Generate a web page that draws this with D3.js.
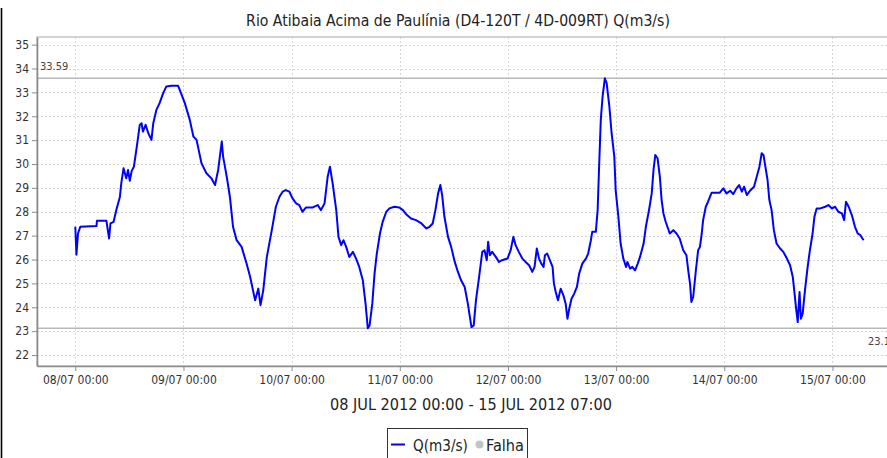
<!DOCTYPE html>
<html>
<head>
<meta charset="utf-8">
<script src="https://cdn.jsdelivr.net/npm/d3@7"></script>
<style>
  body { margin: 0; background: #fff; }
  svg { display: block; font-family: "DejaVu Sans Condensed", "DejaVu Sans", sans-serif; }
</style>
</head>
<body>
<svg id="chart" width="887" height="458"></svg>
<script>
// hours since 08/07/2012 00:00
const hours = [
  0, 0.25, 0.6, 1.1, 4.7, 4.8, 6.9, 7.5, 7.8, 8.5, 9.1, 9.9, 10.2, 10.7, 11.3, 11.7, 12.1, 12.5, 13.0, 13.7,
  14.3, 14.7, 15.0, 15.6, 16.2, 16.9, 17.3, 18.0, 18.7, 19.5, 20.2, 21.3, 22.8, 23.6, 24.3, 25.4, 26.2, 26.9,
  28.0, 29.1, 30.2, 31.0, 31.7, 32.5, 32.8, 33.6, 34.3, 35.0, 35.8, 36.9, 38.0, 38.8, 39.9, 40.6, 41.1, 41.7,
  42.5, 43.6, 44.5, 45.3, 46.0, 46.7, 47.5, 48.2, 49.0, 49.7, 50.4, 51.2, 52.7, 53.8, 54.5, 55.3, 56.0, 56.5,
  57.1, 57.9, 58.4, 59.0, 59.5, 60.1, 60.8, 61.6, 62.3, 63.0, 63.8, 64.4, 64.9, 65.3, 65.9, 66.4, 66.9, 67.6,
  68.2, 69.0, 69.7, 70.8, 71.9, 72.7, 73.4, 74.5, 75.6, 76.8, 77.9, 78.6, 79.3, 79.9, 80.5, 81.0, 81.4, 81.9,
  82.7, 83.4, 84.2, 84.9, 85.6, 86.4, 87.1, 87.9, 88.4, 88.9, 89.6, 90.3, 90.8, 91.3, 91.6, 92.0, 92.5, 93.3,
  94.0, 94.7, 95.9, 96.6, 97.2, 97.7, 98.4, 99.2, 99.9, 100.7, 101.4, 101.9, 102.4, 102.9, 103.4, 103.9, 104.2,
  104.7, 105.3, 105.9, 106.2, 106.6, 107.1, 107.7, 108.3, 108.8, 109.2, 109.6, 110.1, 110.7, 111.3, 111.8,
  112.5, 113.3, 113.8, 114.4, 114.7, 115.5, 115.9, 116.2, 116.6, 117.0, 117.5, 117.9, 118.5, 119.0, 119.6,
  119.9, 120.5, 121.0, 121.6, 122.2, 122.5, 123.1, 123.6, 124.2, 124.8, 125.3, 126.1, 126.6, 127.3, 127.9,
  128.3, 128.7, 129.2, 129.7, 130.1, 130.5, 131.0, 131.9, 132.7, 133.4, 134.1, 134.9, 135.6, 136.0, 136.4,
  136.7, 137.1, 137.7, 138.2, 138.6, 139.0, 139.3, 139.9, 140.4, 141.2, 141.9, 143.0, 143.8, 144.5, 145.3,
  146.0, 146.7, 147.3, 147.9, 148.4, 149.0, 149.7, 150.6, 151.2, 151.8, 152.3, 152.7, 153.0, 153.6, 154.0,
  154.5, 155.0, 155.6, 156.4, 157.1, 157.9, 158.6, 159.2, 159.6, 159.9, 160.3, 160.7, 161.0, 161.4, 161.9,
  162.5, 163.0, 163.6, 164.0, 164.5, 165.3, 166.4, 167.1, 167.9, 168.6, 169.3, 170.1, 170.6, 171.0, 171.6,
  172.3, 173.0, 173.6, 174.2, 174.9
];

// Q (m3/s)
const flow = [
  27.37, 26.2, 27.09, 27.37, 27.40, 27.62, 27.62, 26.88, 27.51, 27.58, 28.07, 28.63, 29.19, 29.82, 29.40, 29.75, 29.30, 29.70, 29.89, 30.80,
  31.64, 31.71, 31.36, 31.64, 31.29, 31.01, 31.71, 32.27, 32.55, 32.97, 33.25, 33.28, 33.28, 32.90, 32.55, 31.85, 31.15, 31.01,
  30.03, 29.61, 29.40, 29.12, 29.75, 30.94, 30.31, 29.47, 28.63, 27.37, 26.81, 26.53, 25.83, 25.27, 24.29, 24.78, 24.09, 24.71,
  26.11, 27.23, 28.21, 28.63, 28.84, 28.91, 28.84, 28.56, 28.35, 28.28, 28.00, 28.18, 28.18, 28.28, 28.07, 28.35, 29.47, 29.89,
  29.19, 28.07, 26.95, 26.60, 26.81, 26.53, 26.11, 26.32, 26.04, 25.69, 25.13, 24.15, 23.12, 23.24, 24.15, 25.41, 26.25, 27.09,
  27.58, 28.00, 28.14, 28.21, 28.18, 28.07, 27.90, 27.72, 27.65, 27.51, 27.30, 27.37, 27.51, 28.07, 28.77, 29.12, 28.70, 27.79,
  26.95, 26.53, 25.90, 25.48, 25.13, 24.85, 24.15, 23.17, 23.24, 24.29, 25.27, 26.32, 26.39, 25.97, 26.74, 26.18, 26.32, 26.11,
  25.90, 25.97, 26.04, 26.39, 26.95, 26.60, 26.32, 26.04, 25.90, 25.76, 25.48, 25.69, 26.46, 26.04, 25.83, 25.69, 26.18,
  26.25, 25.97, 25.69, 24.99, 24.64, 24.29, 24.78, 24.50, 24.15, 23.52, 23.94, 24.36, 24.57, 24.85, 25.41,
  25.83, 26.04, 26.25, 26.81, 27.16, 27.16, 28.07, 29.75, 31.85, 32.83, 33.59, 33.39, 32.41, 31.29, 30.31,
  28.91, 27.79, 26.67, 26.04, 25.69, 25.90, 25.62, 25.69, 25.55, 25.83, 26.11, 26.67, 27.37, 28.07, 28.77,
  29.75, 30.38, 30.24, 29.47, 28.49, 27.93, 27.58, 27.09, 27.23, 27.09, 26.88, 26.39, 26.18, 25.55, 24.99,
  24.22, 24.43, 25.55, 26.39, 26.53, 27.09, 27.65, 28.21, 28.42, 28.80, 28.80, 28.80, 28.98, 28.77, 28.88,
  28.74, 28.98, 29.12, 28.84, 29.05, 28.70, 28.88, 29.05, 29.47, 29.89, 30.45, 30.38, 30.03, 29.33, 28.49,
  28.07, 27.23, 26.67, 26.46, 26.32, 26.04, 25.76, 25.27, 24.57, 24.01, 23.38, 24.64, 23.52, 23.73, 24.71,
  25.69, 26.39, 27.09, 27.79, 28.14, 28.14, 28.21, 28.28, 28.14, 28.21, 28.00, 27.93, 27.65, 28.42, 28.21,
  27.86, 27.37, 27.09, 27.02, 26.81
];

const yTicks = d3.range(22, 36);
const maxMark = 33.59;
const minMark = 23.12;
const title = "Rio Atibaia Acima de Paulínia (D4-120T / 4D-009RT) Q(m3/s)";
const period = "08 JUL 2012 00:00 - 15 JUL 2012 07:00";
const legendItems = ["Q(m3/s)", "Falha"];

const start = Date.UTC(2012, 6, 8, 0, 0);
const HOUR = 3600e3;
const data = hours.map((h, i) => ({t: new Date(start + h * HOUR), v: flow[i]}));

const plot = {left: 37, top: 37, right: 905, bottom: 366};

const x = d3.scaleUtc()
  .domain([new Date(start - 8.5 * HOUR), new Date(start + 184.1 * HOUR)])
  .range([plot.left, plot.right]);

const y = d3.scaleLinear()
  .domain([21.54, 35.32])
  .range([plot.bottom, plot.top]);

const svg = d3.select("#chart");

// squeeze a text to a target width by scaling its font size
function fitWidth(sel, target) {
  let fs = parseFloat(sel.style("font-size"));
  let len = sel.node().getComputedTextLength();
  sel.style("font-size", (fs * target / len) + "px");
}

// page border on the left
svg.append("line")
  .attr("x1", 1.5).attr("x2", 1.5)
  .attr("y1", 8).attr("y2", 458)
  .attr("stroke", "#000")
  .attr("stroke-width", 1.6);

const t = svg.append("text")
  .attr("x", 458).attr("y", 26)
  .attr("text-anchor", "middle")
  .attr("fill", "#222")
  .style("font-size", "16px")
  .text(title);
fitWidth(t, 424);

// grid
const grid = svg.append("g")
  .attr("stroke", "#d6d6d6")
  .attr("stroke-dasharray", "2,2")
  .attr("stroke-width", 1);

grid.selectAll("line.h")
  .data(yTicks)
  .join("line")
    .attr("class", "h")
    .attr("x1", plot.left).attr("x2", plot.right)
    .attr("y1", d => Math.round(y(d)) + 0.5)
    .attr("y2", d => Math.round(y(d)) + 0.5);

grid.selectAll("line.v")
  .data(x.ticks(d3.utcDay.every(1)))
  .join("line")
    .attr("class", "v")
    .attr("x1", d => Math.round(x(d)) + 0.5)
    .attr("x2", d => Math.round(x(d)) + 0.5)
    .attr("y1", plot.top).attr("y2", plot.bottom);

// plot frame
svg.append("rect")
  .attr("x", plot.left).attr("y", plot.top)
  .attr("width", plot.right - plot.left)
  .attr("height", plot.bottom - plot.top)
  .attr("fill", "none")
  .attr("stroke", "#c4c4c4")
  .attr("stroke-width", 1.5);

// max / min markers
const markers = svg.append("g");
markers.selectAll("line")
  .data([maxMark, minMark])
  .join("line")
    .attr("x1", plot.left).attr("x2", plot.right)
    .attr("y1", d => y(d)).attr("y2", d => y(d))
    .attr("stroke", "#b8b8b8")
    .attr("stroke-width", 1.6);

markers.append("text")
  .attr("x", 40).attr("y", y(maxMark) - 8)
  .attr("fill", "#444")
  .style("font-size", "11px")
  .text(maxMark.toFixed(2));

markers.append("text")
  .attr("x", 868).attr("y", y(minMark) + 17)
  .attr("fill", "#444")
  .style("font-size", "11px")
  .text(minMark.toFixed(2));

// axes
const xAxis = svg.append("g")
  .attr("transform", `translate(0,${plot.bottom})`)
  .call(d3.axisBottom(x)
    .ticks(d3.utcDay.every(1))
    .tickFormat(d3.utcFormat("%d/%m %H:%M"))
    .tickSize(5).tickPadding(4).tickSizeOuter(0));

const yAxis = svg.append("g")
  .attr("transform", `translate(${plot.left},0)`)
  .call(d3.axisLeft(y)
    .tickValues(yTicks)
    .tickSize(5).tickPadding(3).tickSizeOuter(0));

[xAxis, yAxis].forEach(a => {
  a.attr("font-family", null).attr("font-size", null);
  a.select(".domain").attr("stroke", "#8c8c8c").attr("stroke-width", 1.6);
  a.selectAll(".tick line").attr("stroke", "#8c8c8c");
  a.selectAll(".tick text").attr("fill", "#333").style("font-size", "12px");
});

// series
svg.append("path")
  .datum(data)
  .attr("fill", "none")
  .attr("stroke", "#0000ff")
  .attr("stroke-width", 2)
  .attr("stroke-linejoin", "round")
  .attr("d", d3.line().x(d => x(d.t)).y(d => y(d.v)));

const sub = svg.append("text")
  .attr("x", 471).attr("y", 410)
  .attr("text-anchor", "middle")
  .attr("fill", "#222")
  .style("font-size", "15px")
  .text(period);
fitWidth(sub, 282);

// legend
const legend = svg.append("g");
legend.append("rect")
  .attr("x", 387.5).attr("y", 428.5)
  .attr("width", 140).attr("height", 40)
  .attr("fill", "#fff")
  .attr("stroke", "#333");

legend.append("line")
  .attr("x1", 391).attr("x2", 405)
  .attr("y1", 444.5).attr("y2", 444.5)
  .attr("stroke", "#0000ff")
  .attr("stroke-width", 2);

const l1 = legend.append("text")
  .attr("x", 413).attr("y", 451)
  .attr("fill", "#222")
  .style("font-size", "14px")
  .text(legendItems[0]);
fitWidth(l1, 55);

legend.append("circle")
  .attr("cx", 479.5).attr("cy", 444.5)
  .attr("r", 4)
  .attr("fill", "#c4c4c4");

const l2 = legend.append("text")
  .attr("x", 486).attr("y", 451)
  .attr("fill", "#222")
  .style("font-size", "14px")
  .text(legendItems[1]);
fitWidth(l2, 38);
</script>
</body>
</html>
